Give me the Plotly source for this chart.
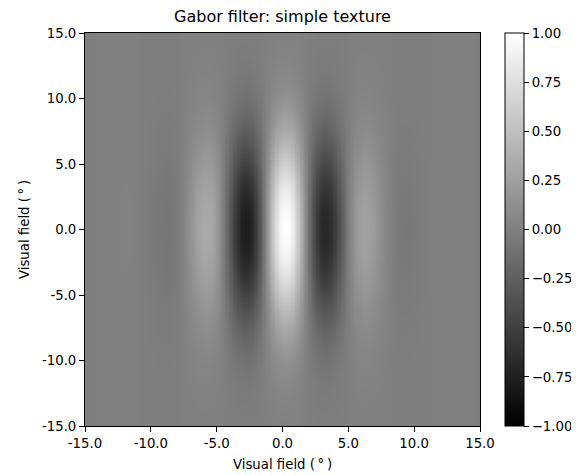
import numpy as np
import plotly.graph_objects as go

# Gabor parameters (degrees of visual field)
field_extent = [-15.0, 15.0]
grid_points = 301
sigma_x = 4.0
sigma_y = 5.1
wavelength = 6.4
peak_offset = 0.3
amplitude = 1.0

axis_ticks = [-15.0, -10.0, -5.0, 0.0, 5.0, 10.0, 15.0]
axis_labels = ["-15.0", "-10.0", "-5.0", "0.0", "5.0", "10.0", "15.0"]
cbar_ticks = [-1.0, -0.75, -0.5, -0.25, 0.0, 0.25, 0.5, 0.75, 1.0]

xs = np.linspace(field_extent[0], field_extent[1], grid_points)
ys = np.linspace(field_extent[0], field_extent[1], grid_points)
X, Y = np.meshgrid(xs, ys)
envelope = np.exp(-(X**2) / (2 * sigma_x**2) - (Y**2) / (2 * sigma_y**2))
carrier = np.cos(2 * np.pi * (X - peak_offset) / wavelength)
Z = amplitude * envelope * carrier

# page body has an 8px default margin; size the figure to compensate
W, H = 571, 467
font = "DejaVu Sans"
fig = go.Figure(
    go.Heatmap(
        x=xs, y=ys, z=Z,
        zmin=-1, zmax=1,
        colorscale=[[0, "black"], [1, "white"]],
        colorbar=dict(
            x=(505 - 85) / 395, xanchor="left", xref="paper",
            y=0.5, yanchor="middle", len=1, lenmode="fraction",
            thickness=19, thicknessmode="pixels", xpad=0, ypad=0,
            tickvals=cbar_ticks, tickformat=".2f",
            ticks="outside", ticklen=5, tickcolor="black",
            outlinecolor="black", outlinewidth=1,
            tickfont=dict(family=font, size=13.3, color="black"),
        ),
        hoverinfo="skip",
    )
)

axis_common = dict(
    range=field_extent,
    tickvals=axis_ticks, ticktext=axis_labels,
    ticks="outside", ticklen=5, tickcolor="black",
    showline=True, linecolor="black", linewidth=1, mirror=True,
    showgrid=False, zeroline=False,
    tickfont=dict(family=font, size=13.3, color="black"),
)

fig.update_layout(
    width=W, height=H,
    margin=dict(l=77, r=99, t=25, b=49, autoexpand=False),
    paper_bgcolor="white", plot_bgcolor="white",
    title=dict(text="Gabor filter: simple texture", x=(77 + 197.5) / W, xanchor="center",
               y=1 - 8 / H, yanchor="middle",
               font=dict(family=font, size=16, color="black")),
    xaxis=dict(axis_common, title=dict(text="Visual field (\u2009°\u2009)", standoff=9,
                                       font=dict(family=font, size=13.3, color="black"))),
    yaxis=dict(axis_common, title=dict(text="Visual field (\u2009°\u2009)", standoff=9,
                                       font=dict(family=font, size=13.3, color="black"))),
)

fig.write_html("out.html")
